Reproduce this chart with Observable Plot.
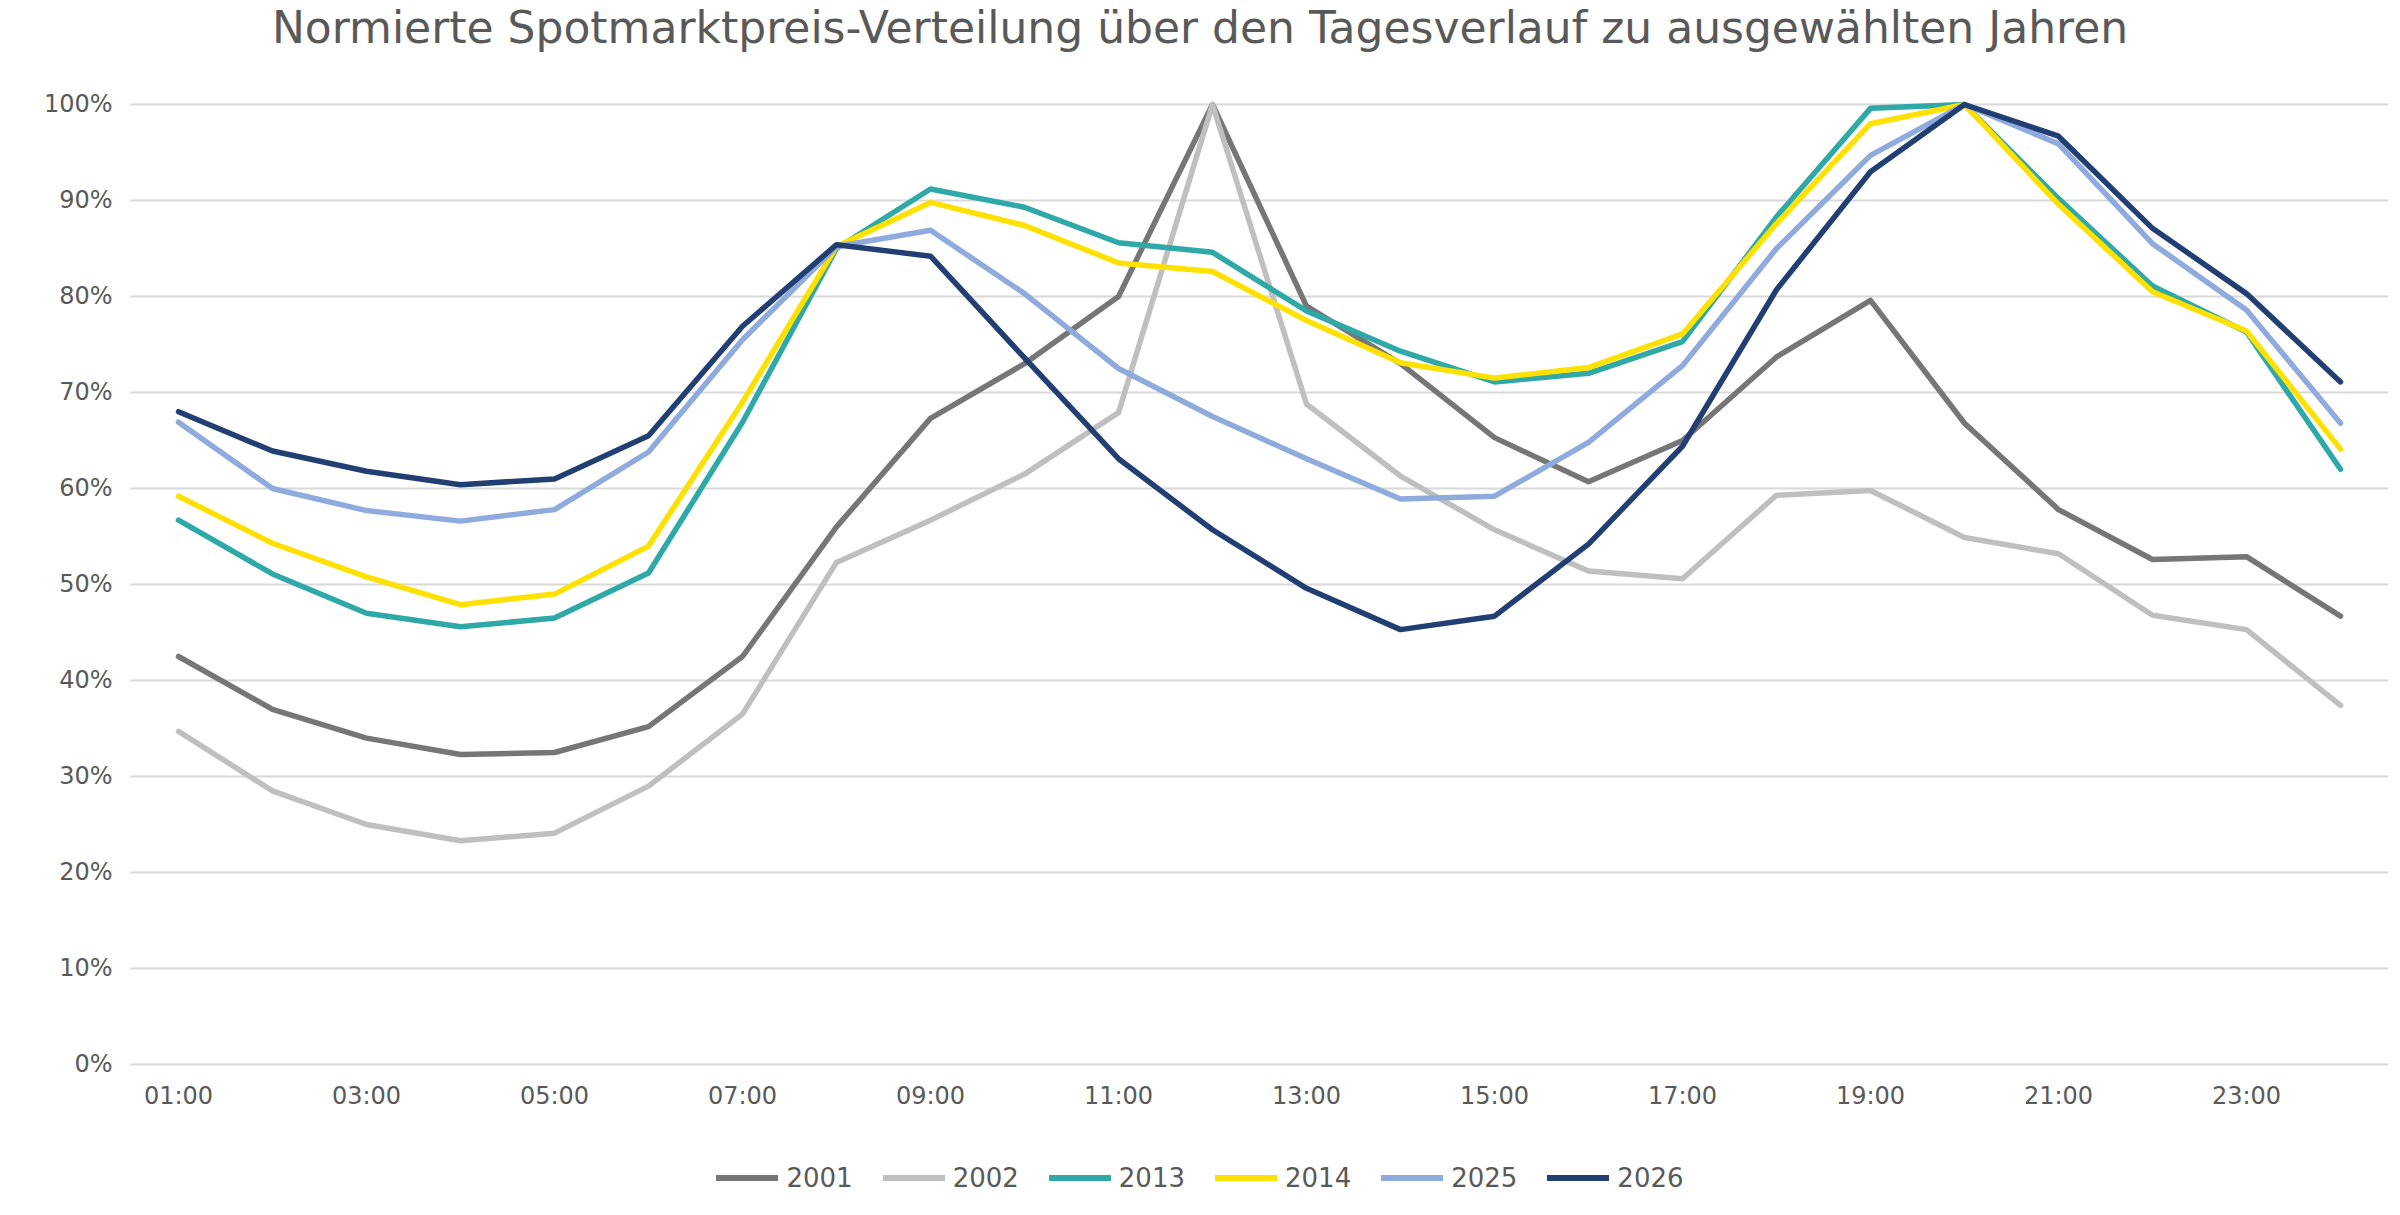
<!DOCTYPE html>
<html><head><meta charset="utf-8">
<script src="https://cdn.jsdelivr.net/npm/d3@7"></script>
<script src="https://cdn.jsdelivr.net/npm/@observablehq/plot@0.6"></script>
<style>
body{margin:0;background:#fff;font-family:"DejaVu Sans",Verdana,sans-serif;}
#wrap{position:relative;width:2400px;height:1215px;}
#title{position:absolute;top:2px;left:0;width:2400px;text-align:center;font-size:44px;color:#595959;}
#legend{position:absolute;top:1163px;left:0;width:2400px;display:flex;justify-content:center;gap:30px;font-size:26px;color:#595959;}
#legend span{display:flex;align-items:center;gap:8px;}
#legend i{display:inline-block;width:62px;height:6px;}
</style></head><body>
<div id="wrap"><div id="chart"></div>
<div id="title">Normierte Spotmarktpreis-Verteilung über den Tagesverlauf zu ausgewählten Jahren</div>
<div id="legend"></div></div>
<script>
const hours = d3.range(1,25).map(h => String(h).padStart(2,"0")+":00");
const years = ["2001","2002","2013","2014","2025","2026"];
const colors = ["#767676","#bfbfbf","#2fa8a8","#ffe100","#8faadc","#223f74"];
const v2001 = [42.5,37,34,32.3,32.5,35.2,42.5,56,67.3,73,80,100,79,73,65.3,60.7,65,73.7,79.6,66.8,57.8,52.6,52.9,46.7];
const v2002 = [34.7,28.5,25,23.3,24.1,29,36.5,52.3,56.7,61.5,67.9,100,68.8,61.3,55.7,51.4,50.6,59.3,59.8,54.9,53.2,46.8,45.3,37.4];
const v2013 = [56.7,51.1,47,45.6,46.5,51.2,66.9,85,91.2,89.3,85.6,84.6,78.5,74.3,71.1,72,75.3,88.3,99.6,100,90.2,81.1,76.3,62];
const v2014 = [59.2,54.3,50.8,47.9,49,54,69,85.2,89.8,87.4,83.5,82.6,77.5,73.1,71.5,72.6,76.1,87.6,98,100,89.6,80.5,76.4,64.1];
const v2025 = [66.9,60,57.7,56.6,57.8,63.8,75.5,85.2,86.9,80.3,72.5,67.5,63.1,58.9,59.2,64.8,72.8,85,94.7,100,95.9,85.5,78.6,66.8];
const v2026 = [68,63.9,61.8,60.4,61,65.5,76.9,85.4,84.2,73.6,63.1,55.7,49.6,45.3,46.7,54.2,64.4,80.7,93,100,96.7,87.1,80.3,71.1];
const series = [v2001,v2002,v2013,v2014,v2025,v2026];
const data = years.flatMap((y,i)=>series[i].map((v,j)=>({year:y,hour:hours[j],value:v/100})));
const yTicks = d3.range(0,1.01,0.1);
const chart = Plot.plot({
  width:2400,height:1215,marginLeft:130,marginRight:12,marginTop:104,marginBottom:151,
  style:{fontFamily:"DejaVu Sans, Verdana, sans-serif",fontSize:"24px",color:"#595959",background:"#fff"},
  x:{type:"point",domain:hours,padding:0.5,label:null,tickSize:0,tickPadding:22,
     tickFormat:(d,i)=>i%2===0?d:""},
  y:{domain:[0,1],ticks:yTicks,tickFormat:d=>Math.round(d*100)+"%",label:null,tickSize:0,tickPadding:18},
  color:{domain:years,range:colors},
  marks:[
    Plot.ruleY(yTicks,{stroke:"#d9d9d9",strokeWidth:2}),
    Plot.line(data,{x:"hour",y:"value",z:"year",stroke:"year",strokeWidth:5.5,strokeLinejoin:"round",strokeLinecap:"round"})
  ]
});
document.getElementById("chart").appendChild(chart);
const lg=document.getElementById("legend");
years.forEach((y,i)=>{const s=document.createElement("span");s.innerHTML=`<i style="background:${colors[i]}"></i>${y}`;lg.appendChild(s);});
</script></body></html>
